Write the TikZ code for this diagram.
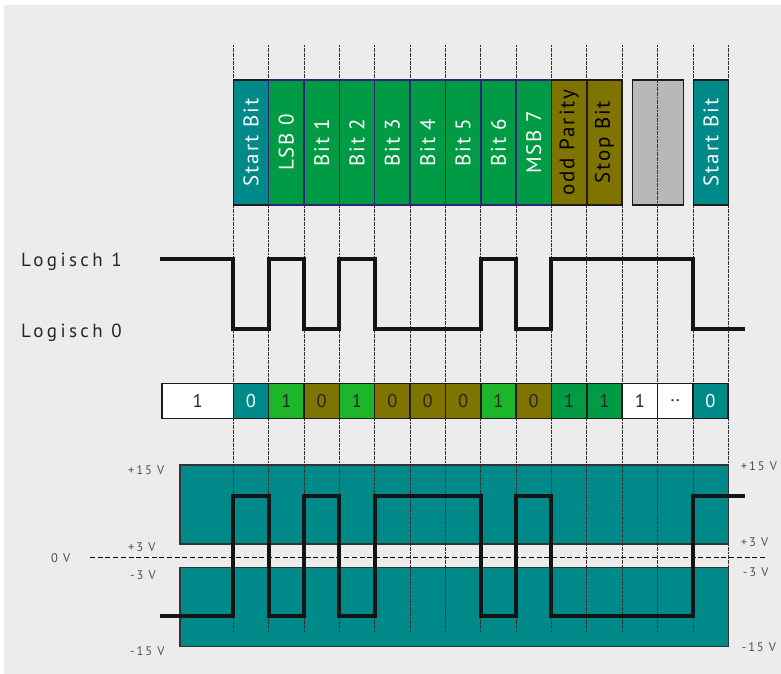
\documentclass[tikz,border=0pt]{standalone}
\usepackage{fontspec}
\setmainfont{PT Sans}
\newfontfamily\levelfont[LetterSpace=18]{PT Sans}
\newfontfamily\voltfont[LetterSpace=15]{PT Sans}
\newfontfamily\fieldfont[LetterSpace=9]{PT Sans}
\usepackage{xcolor}
\usepackage{graphicx}
\usepackage{tikz}
\usetikzlibrary{positioning, calc}

\definecolor{paper}{RGB}{236,236,236}
\definecolor{uartteal}{RGB}{0,137,137}
\definecolor{uartgreen}{RGB}{0,155,68}
\definecolor{lightgreen}{RGB}{29,181,42}
\definecolor{uartolive}{RGB}{128,116,0}
\definecolor{idlegray}{RGB}{184,184,184}
\definecolor{databorder}{RGB}{45,35,120}
\definecolor{frame}{RGB}{28,28,28}
\definecolor{voltgray}{RGB}{80,80,80}

\begin{document}
\begin{tikzpicture}[
    x=1pt, y=-1pt,
    fieldbox/.style={rectangle, draw=frame, fill=#1, line width=1.5pt, minimum width=35.35pt, minimum height=125pt, inner sep=0pt, outer sep=0pt, text=white, font=\fieldfont\fontsize{21}{24}\selectfont},
    databox/.style={fieldbox=uartgreen, draw=databorder},
    bitcell/.style={rectangle, draw=frame, fill=#1, line width=1.5pt, minimum width=35.35pt, minimum height=35pt, inner sep=0pt, outer sep=0pt, text=black!85, font=\fontsize{18.5}{20}\selectfont},
    voltband/.style={draw=black!80, fill=uartteal, line width=1.2pt},
    gridline/.style={draw=black!80, line width=0.7pt, dash pattern=on 2pt off 0.6pt},
    zeroline/.style={draw=black, line width=1.5pt, dash pattern=on 5pt off 2.7pt},
    wave/.style={draw=black!92, line width=4pt},
    levellabel/.style={font=\levelfont\fontsize{19}{22}\selectfont, text=black!85, anchor=base west, inner sep=0pt},
    voltlabel/.style={font=\voltfont\fontsize{12.5}{14}\selectfont, text=voltgray, anchor=base west, inner sep=0pt},
]
    \useasboundingbox[fill=white] (0,0) rectangle (781,674);
    \fill[paper] (4,5) rectangle (781,674);

    \draw[voltband] (180,465) rectangle (728.7,544);
    \draw[voltband] (180,567.7) rectangle (728.7,646.7);
    \draw[zeroline] (90,557.7) -- (765,557.7);

    \node[fieldbox=idlegray, minimum width=50.6pt] (idle) at (658,142.5) {};

    \foreach \i in {0,...,14}
        \draw[gridline] (233.3+35.35*\i,45) coordinate (g\i) -- (233.3+35.35*\i,632.5);

    \node[fieldbox=uartteal] (start) at (251,142.5) {\rotatebox{90}{Start Bit}};
    \node[databox, right=0pt of start] (lsb) {\rotatebox{90}{LSB 0}};
    \node[databox, right=0pt of lsb] (bit1) {\rotatebox{90}{Bit 1}};
    \node[databox, right=0pt of bit1] (bit2) {\rotatebox{90}{Bit 2}};
    \node[databox, right=0pt of bit2] (bit3) {\rotatebox{90}{Bit 3}};
    \node[databox, right=0pt of bit3] (bit4) {\rotatebox{90}{Bit 4}};
    \node[databox, right=0pt of bit4] (bit5) {\rotatebox{90}{Bit 5}};
    \node[databox, right=0pt of bit5] (bit6) {\rotatebox{90}{Bit 6}};
    \node[databox, right=0pt of bit6] (msb) {\rotatebox{90}{MSB 7}};
    \node[fieldbox=uartolive, text=black, right=0pt of msb] (parity) {\rotatebox{90}{odd Parity}};
    \node[fieldbox=uartolive, text=black, right=0pt of parity] (stop) {\rotatebox{90}{Stop Bit}};
    \node[fieldbox=uartteal, right=10pt of idle] (next) {\rotatebox{90}{Start Bit}};

    \node[levellabel] (one) at (21,266) {Logisch 1};
    \node[levellabel] (zero) at (21,337) {Logisch 0};
    \coordinate (hi) at (0,259);
    \coordinate (lo) at (0,329);
    \draw[wave] (160,259) -| (g0|-lo) -| (g1|-hi) -| (g2|-lo) -| (g3|-hi) -| (g4|-lo) -| (g7|-hi) -| (g8|-lo) -| (g9|-hi) -| (g13|-lo) -- (745,329);

    \node[bitcell=white, minimum width=71.3pt] (idlebit) at (197.65,401) {1};
    \node[bitcell=uartteal, text=white, right=0pt of idlebit] (sbit) {0};
    \node[bitcell=lightgreen, right=0pt of sbit] (d0) {1};
    \node[bitcell=uartolive, right=0pt of d0] (d1) {0};
    \node[bitcell=lightgreen, right=0pt of d1] (d2) {1};
    \node[bitcell=uartolive, right=0pt of d2] (d3) {0};
    \node[bitcell=uartolive, right=0pt of d3] (d4) {0};
    \node[bitcell=uartolive, right=0pt of d4] (d5) {0};
    \node[bitcell=lightgreen, right=0pt of d5] (d6) {1};
    \node[bitcell=uartolive, right=0pt of d6] (d7) {0};
    \node[bitcell=uartgreen, right=0pt of d7] (pbit) {1};
    \node[bitcell=uartgreen, right=0pt of pbit] (stbit) {1};
    \node[bitcell=white, right=0pt of stbit] (mark) {1};
    \node[bitcell=white, right=0pt of mark] (dots) {..};
    \node[bitcell=uartteal, text=white, right=0pt of dots] (nsbit) {0};

    \coordinate (pos) at (0,495.7);
    \coordinate (neg) at (0,616);
    \draw[wave] (160,616) -| (g0|-pos) -| (g1|-neg) -| (g2|-pos) -| (g3|-neg) -| (g4|-pos) -| (g7|-neg) -| (g8|-pos) -| (g9|-neg) -| (g13|-pos) -- (745,495.7);

    \node[voltlabel] (lp15) at (128,474) {+15 V};
    \node[voltlabel] (lp3) at (128,551.7) {+3 V};
    \node[voltlabel] (l0) at (51,562.7) {0 V};
    \node[voltlabel] (lm3) at (130,579.3) {-3 V};
    \node[voltlabel] (lm15) at (130,655) {-15 V};
    \node[voltlabel] (rp15) at (740.7,470) {+15 V};
    \node[voltlabel] (rp3) at (740.7,546.7) {+3 V};
    \node[voltlabel] (rm3) at (742.7,576) {-3 V};
    \node[voltlabel] (rm15) at (741.7,651.7) {-15 V};
\end{tikzpicture}
\end{document}
